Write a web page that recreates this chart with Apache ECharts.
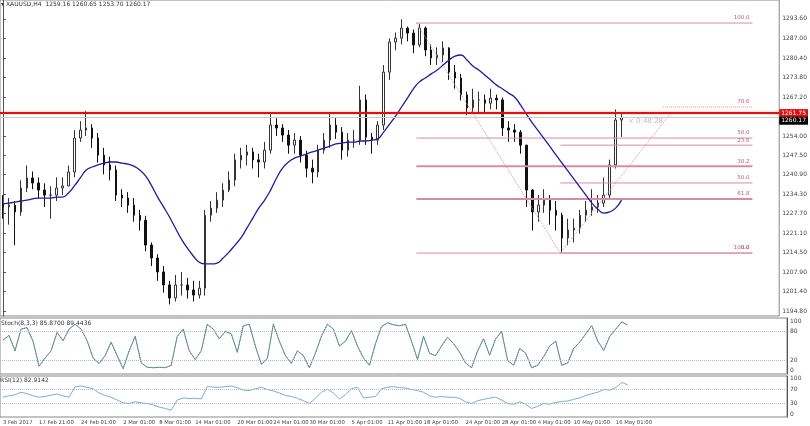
<!DOCTYPE html>
<html><head><meta charset="utf-8">
<script src="https://cdn.jsdelivr.net/npm/echarts@6/dist/echarts.min.js"></script>
<style>html,body{margin:0;padding:0;background:#fff}#c{width:810px;height:426px}</style>
</head><body><div id="c"></div>
<script>
const closes=[1230.0,1230.6,1228.3,1236.4,1239.8,1238.1,1235.7,1234.0,1234.0,1236.4,1237.1,1241.8,1253.3,1256.0,1256.7,1253.3,1247.5,1244.2,1242.5,1234.0,1233.0,1230.6,1227.2,1225.5,1217.1,1212.7,1208.0,1203.6,1199.2,1203.6,1203.6,1201.9,1200.2,1202.5,1227.2,1229.6,1232.3,1235.7,1239.1,1245.9,1247.5,1248.6,1245.9,1245.2,1249.2,1257.7,1256.7,1254.3,1250.9,1252.6,1247.5,1243.1,1241.8,1249.2,1252.6,1257.7,1255.3,1249.2,1252.6,1252.6,1266.2,1253.6,1252.6,1257.7,1275.6,1285.8,1287.1,1290.5,1288.8,1284.8,1290.5,1283.1,1280.4,1281.4,1283.8,1275.6,1273.6,1267.9,1263.5,1266.2,1266.2,1265.1,1266.8,1266.2,1256.7,1256.0,1255.3,1250.9,1235.7,1228.3,1230.6,1232.3,1228.9,1227.2,1219.5,1222.2,1222.8,1227.2,1228.9,1230.0,1231.3,1234.0,1244.2,1259.4,1260.17];
const highs=[1234,1233,1232,1239,1244,1242,1240,1238,1237,1240,1240,1244,1256,1259,1262.5,1258,1255,1250,1247,1244,1236,1235,1233,1229,1227,1218,1214,1210,1205,1207,1208,1206,1205,1205,1229,1232,1235,1238,1242,1248,1250,1251,1250,1248,1252,1262,1260,1258,1256,1255,1254,1249,1246,1251,1255,1262,1260,1257,1255,1256,1271,1268,1255,1259,1278,1287,1289,1293.5,1291,1290,1292,1291,1285,1284,1286,1284,1278,1275,1269,1270,1269,1268,1270,1268,1267,1259,1258,1256,1251,1236,1234,1236,1234,1232,1228,1226,1226,1229,1232,1236,1234,1240,1246,1263,1262];
const lows=[1226,1224,1217,1227,1235,1236,1233,1230,1226,1232,1234,1237,1240,1252,1254,1250,1245,1241,1239,1232,1230,1228,1225,1222,1215,1210,1205,1201,1197,1198,1200,1199,1198,1199,1200,1225,1228,1230,1235,1237,1243,1244,1243,1240,1243,1248,1254,1252,1248,1248,1245,1240,1238,1240,1248,1250,1253,1246,1247,1250,1251,1251,1248,1251,1256,1273,1283,1285,1286,1282,1284,1281,1278,1278,1279,1273,1270,1266,1261,1262,1262,1262,1263,1263,1254,1252,1252,1248,1230,1222,1225,1228,1224,1222,1214.5,1217,1218,1221,1225,1227,1228,1230,1233,1243,1253.7];
const firstOpen=1231.0;
const maValues=[1231.0,1231.3,1231.6,1232.0,1232.3,1232.7,1233.0,1233.0,1233.0,1233.3,1233.3,1234.7,1237.1,1239.8,1242.5,1243.5,1244.2,1244.8,1245.2,1245.2,1244.8,1244.5,1243.8,1242.5,1240.4,1237.1,1233.3,1230.0,1226.6,1222.8,1219.1,1216.1,1213.4,1211.3,1210.7,1210.7,1211.0,1212.7,1214.7,1217.1,1219.5,1222.8,1226.2,1229.6,1232.3,1235.7,1239.8,1243.1,1245.2,1246.5,1247.2,1247.9,1248.6,1249.2,1249.9,1250.6,1251.3,1251.6,1251.9,1251.9,1252.3,1252.3,1252.6,1253.0,1255.3,1258.0,1260.7,1263.8,1266.8,1269.9,1272.3,1273.6,1275.0,1276.3,1278.0,1279.7,1281.0,1281.4,1279.7,1277.7,1276.3,1274.6,1272.9,1271.2,1269.9,1268.5,1267.2,1264.5,1261.4,1258.4,1255.7,1253.0,1250.3,1247.5,1244.8,1242.1,1239.4,1236.7,1234.0,1231.3,1229.3,1227.9,1228.3,1229.6,1232.3];
const stochValues=[62,72,40,85,88,60,8,25,40,78,61,85,95,85,61,25,14,30,58,30,3,40,70,15,6,5,6,5,10,70,85,40,22,40,95,85,65,80,75,37,92,95,50,12,24,95,60,30,14,40,30,5,35,70,95,85,50,60,82,50,25,10,55,90,98,94,92,95,60,22,70,35,30,50,68,55,37,15,5,40,65,31,65,80,20,10,45,35,5,10,28,50,60,10,15,45,58,75,92,60,41,70,85,100,93];
const rsiValues=[48,52,55,62,58,52,48,50,54,57,52,48,78,80,76,72,60,53,48,40,32,30,35,32,30,26,20,16,11,40,46,44,45,43,78,77,76,78,80,75,68,67,72,76,70,66,60,53,50,45,38,30,45,62,71,60,43,55,72,76,46,48,50,72,76,78,75,74,70,67,62,52,48,50,48,48,45,35,30,38,42,45,48,40,30,28,35,28,16,22,30,28,33,36,37,42,46,53,58,62,70,68,75,90,83];
const dateLabels=[[0,'3 Feb 2017'],[6,'17 Feb 21:00'],[13,'24 Feb 01:00'],[20,'2 Mar 01:00'],[26,'8 Mar 01:00'],[32,'14 Mar 01:00'],[39,'20 Mar 01:00'],[45,'24 Mar 01:00'],[51,'30 Mar 01:00'],[58,'5 Apr 01:00'],[64,'11 Apr 01:00'],[70,'18 Apr 01:00'],[77,'24 Apr 01:00'],[83,'28 Apr 01:00'],[89,'4 May 01:00'],[95,'10 May 01:00'],[102,'16 May 01:00']];
const priceTicks=[1194.80,1201.40,1207.90,1214.50,1221.10,1227.70,1234.30,1240.90,1247.50,1254.00,1267.20,1273.80,1280.40,1287.00,1293.60];
const fibNames=['100.0','78.6','50.0','23.6','38.2','50.0','61.8','100.0','0.0'];
const fibPrices=[1292.2,1263.8,1253.3,1250.9,1243.8,1238.1,1232.7,1214.4,1214.4];
const fibStart=[69.5,111,69.5,93.7,69.5,93.7,69.5,69.5,93.7];
const fibWidth=[1,1,1,1,2,1,2,1,1];
const trend1=[[69.5,1292.2],[93.7,1214.4]];
const trend2=[[93.7,1214.4],[112.3,1261.75]];
const resistance=1261.75, bid=1260.17;
const nSlots=131, fibEnd=126;

const cats=[];for(let i=0;i<nSlots;i++)cats.push('');
dateLabels.forEach(d=>cats[d[0]]=d[1]);
const labelIdx=new Set(dateLabels.map(d=>d[0]));
const ohlc=closes.map((c,i)=>[i?closes[i-1]:firstOpen,c,lows[i],highs[i]]);
const F='Tahoma, "DejaVu Sans", sans-serif', G='#444';
const chart=echarts.init(document.getElementById('c'));
const fibSeries=fibNames.map((n,k)=>({type:'line',xAxisIndex:1,yAxisIndex:0,silent:true,symbol:'none',animation:false,
  lineStyle:{color:'#d88ca0',width:fibWidth[k],type:k===1?'dotted':'solid'},
  endLabel:{show:true,formatter:n,offset:[-3,-5],align:'right',fontSize:5.5,color:'#c05a7a',fontFamily:F,distance:0},
  data:[[fibStart[k],fibPrices[k]],[fibEnd,fibPrices[k]]]}));
const catAxis=(g,show)=>({type:'category',gridIndex:g,data:cats,boundaryGap:true,axisLine:{show:false},axisTick:{show:false},
  axisLabel:{show:show,interval:(i)=>labelIdx.has(i),showMinLabel:true,hideOverlap:false,fontSize:5.3,color:G,fontFamily:F,align:'left',margin:3},splitLine:{show:false}});
chart.setOption({animation:false,
 grid:[{left:0,right:23,top:0,height:316,show:true,borderColor:'#888',borderWidth:1},
       {left:0,right:23,top:318,height:56,show:true,borderColor:'#888',borderWidth:1},
       {left:0,right:23,top:376,height:41,show:true,borderColor:'#888',borderWidth:1}],
 xAxis:[catAxis(0,false),{type:'value',gridIndex:0,min:-0.5,max:nSlots-0.5,show:false},catAxis(1,false),catAxis(2,true)],
 yAxis:[{type:'value',gridIndex:0,position:'right',min:1193.1,max:1300,axisLine:{show:true,lineColor:'#888'},splitLine:{show:false},
   axisTick:{show:true,customValues:priceTicks,length:3},axisLabel:{customValues:priceTicks,formatter:v=>v.toFixed(2),fontSize:6,color:G,fontFamily:F,margin:3}},
  {type:'value',gridIndex:1,position:'right',min:-8,max:108,axisLine:{show:true},splitLine:{show:false},axisTick:{customValues:[0,20,80,100],length:3},axisLabel:{customValues:[0,20,80,100],fontSize:6,color:G,fontFamily:F,margin:3}},
  {type:'value',gridIndex:2,position:'right',min:-8.3,max:108.3,axisLine:{show:true},splitLine:{show:false},axisTick:{customValues:[0,30,70,100],length:3},axisLabel:{customValues:[0,30,70,100],fontSize:6,color:G,fontFamily:F,margin:3}}],
 series:[
  ...fibSeries,
  {type:'line',xAxisIndex:1,yAxisIndex:0,symbol:'none',lineStyle:{color:'#d88ca0',width:1,type:'dotted'},data:trend1},
  {type:'line',xAxisIndex:1,yAxisIndex:0,symbol:'none',lineStyle:{color:'#d88ca0',width:1,type:'dotted'},data:trend2},
  {type:'candlestick',xAxisIndex:0,yAxisIndex:0,data:ohlc,barWidth:2,
   itemStyle:{color:'#ffffff',color0:'#111',borderColor:'#333',borderColor0:'#111',borderWidth:1},
   markLine:{symbol:'none',silent:true,data:[
    {yAxis:resistance,lineStyle:{color:'#e01010',width:2,type:'solid',shadowColor:'rgba(240,120,120,0.6)',shadowBlur:3},
     label:{show:true,position:'end',formatter:resistance.toFixed(2),backgroundColor:'#e01010',color:'#fff',fontSize:6,padding:[1,2],fontFamily:F,distance:0}},
    {yAxis:bid,lineStyle:{color:'#c8c8c8',width:1,type:'solid'},
     label:{show:true,position:'end',formatter:bid.toFixed(2),backgroundColor:'#000',color:'#fff',fontSize:6,padding:[1,2],fontFamily:F,distance:0,offset:[0,3]}}]}},
  {type:'line',xAxisIndex:0,yAxisIndex:0,data:maValues,symbol:'none',smooth:true,lineStyle:{color:'#1c1ca0',width:1.3}},
  {type:'line',xAxisIndex:2,yAxisIndex:1,data:stochValues,symbol:'none',lineStyle:{color:'#5bb5b0',width:1},
   markLine:{symbol:'none',silent:true,label:{show:false},lineStyle:{color:'#bbb',type:'dotted',width:1},data:[{yAxis:20},{yAxis:80}]}},
  {type:'line',xAxisIndex:2,yAxisIndex:1,data:stochValues,symbol:'none',lineStyle:{color:'#666',width:1,type:'dotted'}},
  {type:'line',xAxisIndex:3,yAxisIndex:2,data:rsiValues,symbol:'none',lineStyle:{color:'#78aed0',width:1},
   markLine:{symbol:'none',silent:true,label:{show:false},lineStyle:{color:'#bbb',type:'dotted',width:1},data:[{yAxis:30},{yAxis:70}]}}
 ],
 graphic:[
  {type:'text',left:1,top:1,style:{text:'▾ XAUUSD,H4  1259.16 1260.65 1253.70 1260.17',fontSize:6,fill:'#333',fontFamily:F}},
  {type:'text',left:1,top:320,style:{text:'Stoch(8,3,3) 85.8700 89.4436',fontSize:6,fill:'#333',fontFamily:F}},
  {type:'text',left:0,top:377,style:{text:'RSI(12) 82.9142',fontSize:6,fill:'#333',fontFamily:F}},
  {type:'text',left:628,top:118,style:{text:'× 0:48:28',fontSize:7,fill:'#b8c0cc',fontFamily:F}}
 ]});
</script></body></html>
